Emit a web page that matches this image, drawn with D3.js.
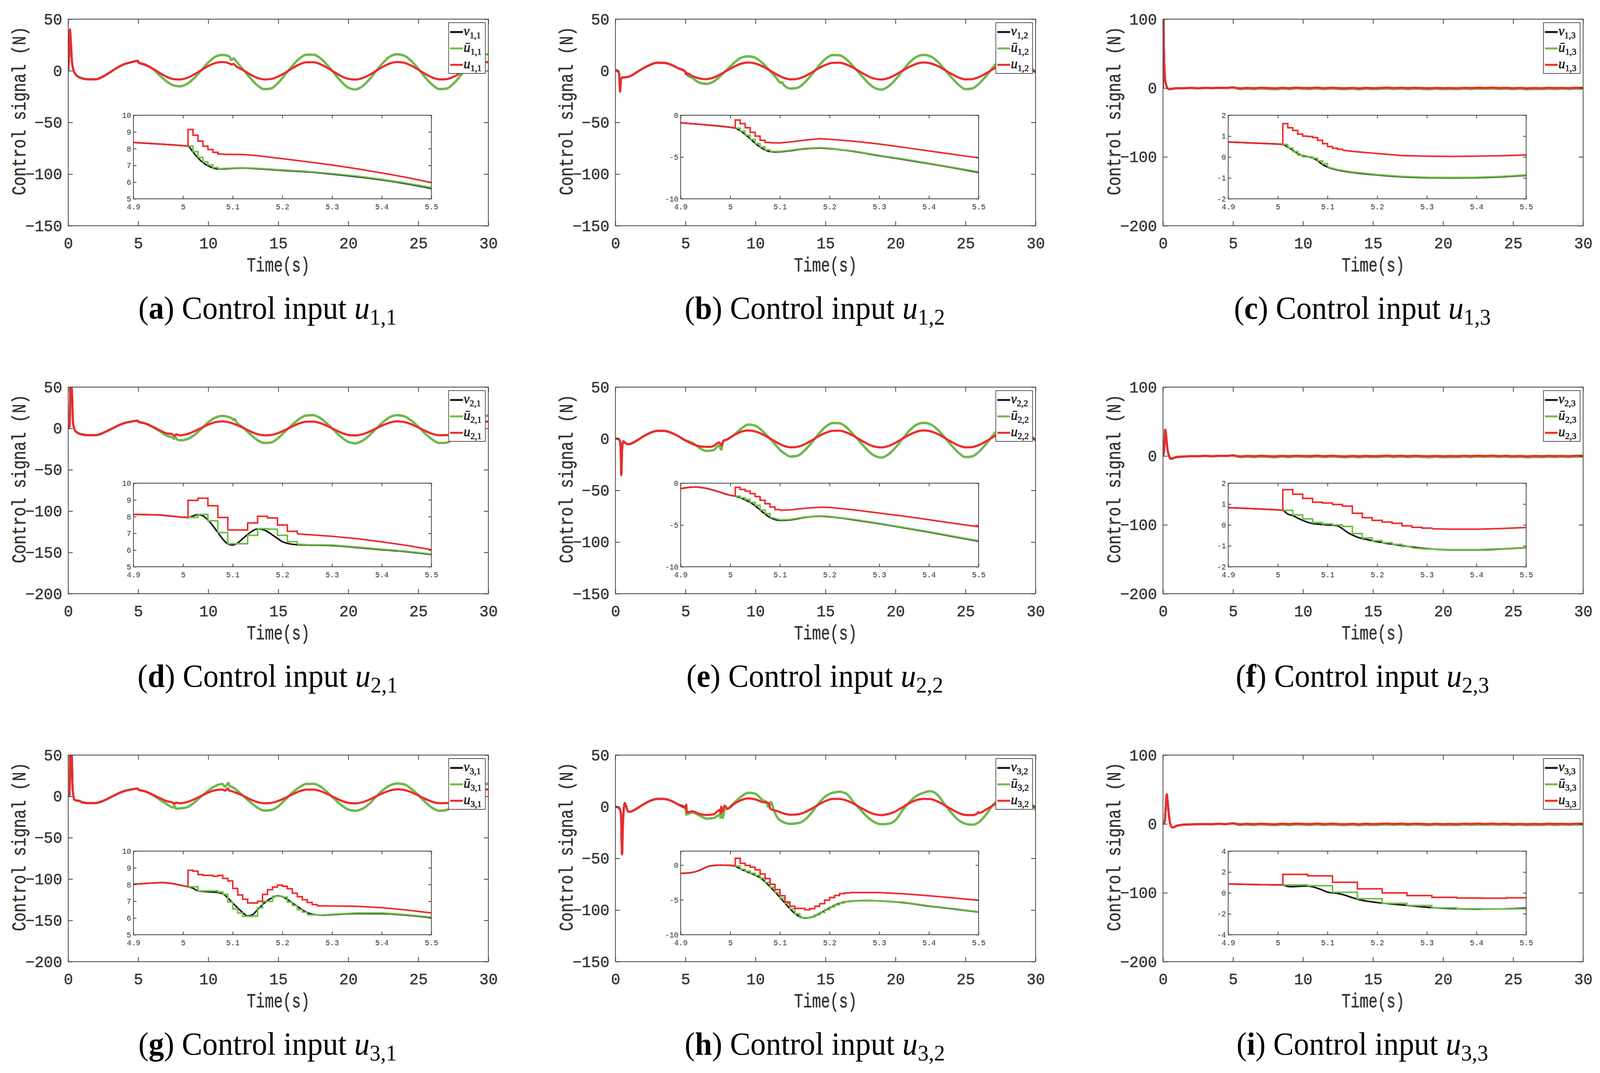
<!DOCTYPE html>
<html>
<head>
<meta charset="utf-8">
<script src="https://cdn.jsdelivr.net/npm/d3@7"></script>
<style>
  html, body { margin: 0; padding: 0; background: #fff; overflow: hidden; }
  svg { display: block; width: 100vw; height: 100vh; }
</style>
</head>
<body>
<svg id="fig" viewBox="0 0 4269 2747" preserveAspectRatio="none"></svg>
<script>
// sample times of the main plots
var tGrid = [1,1.5,2,2.5,3,3.5,4,4.5,5,5.5,6,6.5,7,7.5,8,8.5,9,9.5,10,10.5,11,11.5,12,12.5,13,13.5,14,14.5,15,15.5,
             16,16.5,17,17.5,18,18.5,19,19.5,20,20.5,21,21.5,22,22.5,23,23.5,24,24.5,25,25.5,26,26.5,27,27.5,28,28.5,29,29.5,30];
var tLate = [5,5.5,6,6.5,7,7.5,8,8.5,9,9.5,10,10.5,11,11.5,12,12.5,13,13.5,14,14.5,15,15.5,
             16,16.5,17,17.5,18,18.5,19,19.5,20,20.5,21,21.5,22,22.5,23,23.5,24,24.5,25,25.5,26,26.5,27,27.5,28,28.5,29,29.5,30];

var xTicks = [0,5,10,15,20,25,30];
var zxTicks = [4.9,5,5.1,5.2,5.3,5.4,5.5];
var yTicks150 = [-150,-100,-50,0,50];
var yTicks200 = [-200,-150,-100,-50,0,50];
var yTicks300 = [-200,-100,0,100];
var zTicks5 = [5,6,7,8,9,10];
var zTicks10 = [-10,-5,0];
var zTicks2 = [-2,-1,0,1,2];
var zTicks4 = [-4,-2,0,2,4];

// ---------- column 1 ----------
var uHead_a = [[0,0],[0.05,12],[0.12,40],[0.18,30],[0.25,12],[0.35,2],[0.5,-3],[0.75,-6]];
var u_a = [-7.3,-8.3,-8.1,-5.4,-1.3,3.0,6.4,8.3,8.2,6.0, 2.4,-1.8,-5.6,-8.0,-8.4,-6.8,-3.5,0.6,4.6,7.5,
           8.5,7.2,4.3,0.6,-3.6,-6.8,-8.4,-7.9,-5.5,-1.8, 2.4,6.1,8.2,8.3,6.4,2.9,-1.3,-5.2,-7.8,-8.5,
           -7.1,-4.0,0.1,4.1,7.2,8.5,7.7,5.0,1.1,-3.1, -6.5,-8.3,-8.1,-5.9,-2.3,1.9,5.6,8.0,8.4];
var uExtra_a = [[4.97,9.6],[11.65,6.2],[11.8,6.6]];
var ubar_a = [8.2,5.6,2.2,-4.0,-10.0,-14.0,-15.0,-12.5,-7.0,0.5, 8.0,13.5,15.4,14.0,9.0,1.0,-7.0,-14.0,-17.8,-17.0,
              -11.5,-3.5,4.7,11.7,15.6,15.7,12.2,5.5,-2.5,-10.5, -16.3,-18.0,-15.0,-8.5,0.0,8.0,14.0,16.0,14.6,9.5,
              2.0,-6.5,-13.5,-17.7,-17.3,-12.5,-5.0,3.5,11.0,15.5, 16.0];
var ubarExtra_a = [[11.65,10.5],[11.8,12.0]];

var uHead_d = [[0,0],[0.1,3],[0.17,60],[0.26,45],[0.35,6],[0.5,-3],[0.75,-6]];
var u_d = [-7.3,-8.3,-8.1,-5.4,-1.3,3.0,6.4,8.3,8.2,6.0, 2.4,-2.0,-5.8,-8.0,-8.4,-6.8,-3.5,0.6,4.6,7.5,
           8.5,7.3,4.4,0.6,-3.6,-6.8,-8.4,-7.9,-5.5,-1.8, 2.4,6.1,8.2,8.3,6.4,2.9,-1.3,-5.2,-7.8,-8.5,
           -7.1,-4.0,0.1,4.1,7.2,8.5,7.7,5.0,1.1,-3.1, -6.5,-8.3,-8.1,-5.9,-2.3,1.9,5.6,8.0,8.3];
var uExtra_d = [[4.95,9.4],[7.45,-7.0],[7.6,-8.9],[7.7,-7.2]];
var ubar_d = [8.2,6.0,2.0,-3.0,-8.5,-11.5,-14.5,-13.0,-8.0,-0.5, 7.5,13.0,15.2,13.5,8.0,1.0,-7.0,-14.0,-17.7,-17.0,
              -11.5,-3.5,4.5,11.5,15.6,16.0,12.5,5.5,-2.5,-10.5, -16.3,-18.0,-15.0,-8.5,0.0,8.0,14.0,16.0,14.6,9.5,
              2.0,-6.5,-13.5,-17.7,-17.3,-12.5,-5.0,3.5,11.0,15.0, 15.4];
var ubarExtra_d = [[7.55,-12.5],[7.65,-10.3],[7.75,-13.2],[11.7,12.0],[11.8,10.0],[11.9,11.5]];

var uHead_g = [[0,0],[0.1,2],[0.15,60],[0.24,55],[0.32,8],[0.45,-4],[0.6,-5],[0.8,-5.5]];
var u_g = [-7.2,-8.2,-8.0,-5.4,-1.3,3.0,6.4,8.3,8.2,6.0, 2.4,-1.8,-5.6,-7.8,-8.4,-6.8,-3.5,0.6,4.6,7.5,
           8.3,7.0,4.3,0.6,-3.6,-6.8,-8.4,-7.9,-5.5,-1.8, 2.4,6.1,8.2,8.3,6.4,2.9,-1.3,-5.2,-7.8,-8.5,
           -7.1,-4.0,0.1,4.1,7.2,8.5,7.7,5.0,1.1,-3.1, -6.5,-8.3,-8.1,-5.9,-2.3,1.9,5.6,8.0,8.4];
var uExtra_g = [[4.95,9.5],[7.55,-9.5],[7.7,-7.5],[11.2,7.0],[11.4,9.6],[11.6,6.6]];
var ubar_g = [8.2,6.0,2.0,-3.5,-9.0,-13.5,-14.5,-13.0,-7.5,0.0, 7.0,12.5,15.0,13.0,8.0,0.5,-7.0,-13.5,-17.2,-16.5,
              -12.0,-4.0,4.5,11.0,15.0,15.3,12.0,5.0,-3.0,-10.5, -16.0,-17.5,-15.0,-9.0,0.0,8.0,13.5,15.5,14.5,9.0,
              1.5,-7.0,-14.0,-17.5,-16.5,-12.0,-5.0,3.5,11.0,14.5, 15.0];
var ubarExtra_g = [[7.6,-12.0],[7.7,-14.8],[11.2,11.8],[11.45,16.3],[11.7,11.5]];

// ---------- column 2 ----------
var uHead_b = [[0,0],[0.1,0.5],[0.2,-1],[0.27,-3],[0.33,-20],[0.4,-8],[0.5,-6.5],[0.75,-6.2]];
var u_b = [-5.5,-1.6,2.5,5.9,7.8,7.7,5.7,2.4,-1.6,-5.1, -7.4,-8.1,-6.6,-3.4,0.5,4.2,7.0,8.0,7.0,4.3,
           0.6,-3.5,-6.7,-8.3,-7.8,-5.4,-1.8,2.3,5.7,7.7, 7.8,6.0,2.8,-1.2,-5.0,-7.6,-8.4,-7.0,-3.9,0.1,
           3.9,6.8,8.0,7.2,4.7,1.0,-3.1,-6.5,-8.3,-8.0, -5.8,-2.2,1.9,5.4,7.6,7.9,6.3,3.2,-1.2];
var uExtra_b = [[4.97,-0.6],[5.02,-3.2],[5.1,-2.3]];
var ubar_b = [-1.6,-7.0,-11.5,-12.7,-10.5,-5.0,1.5,8.0,12.8,14.0, 12.5,7.5,0.5,-7.0,-13.5,-17.2,-16.5,-11.5,-4.0,4.5,
              11.5,15.2,15.0,11.0,4.0,-3.5,-11.0,-16.5,-18.2,-15.0, -8.5,0.0,8.0,13.5,15.4,14.0,9.0,1.5,-6.5,-13.5,
              -17.8,-17.0,-12.0,-4.5,4.0,11.0,15.0,15.4,12.5,6.0, -2.0];
var ubarExtra_b = [[11.8,-11.6],[11.9,-11.0]];

var uHead_e = [[0,0],[0.15,0],[0.3,-1.5],[0.37,-8],[0.42,-35],[0.48,-10],[0.56,-2.4],[0.7,-4],[0.9,-5.4]];
var u_e = [-5.2,-2.0,2.3,5.8,7.7,7.6,5.7,2.4,-1.6,-5.0, -7.3,-7.8,-7.0,-5.0,-0.5,3.8,6.9,8.0,7.0,4.3,
           0.6,-3.5,-6.7,-8.3,-7.8,-5.4,-1.8,2.3,5.7,7.7, 7.8,6.0,2.8,-1.2,-5.0,-7.6,-8.4,-7.0,-3.9,0.1,
           3.9,6.8,8.0,7.2,4.7,1.0,-3.1,-6.5,-8.3,-8.0, -5.8,-2.2,1.9,5.4,7.6,7.9,6.3,3.2,-1.2];
var uExtra_e = [[6.8,-7.8],[7.4,-3.6],[7.57,-6.4],[7.7,-2.0]];
var ubar_e = [-1.6,-4.0,-8.8,-11.8,-11.0,-9.5,-0.5,4.0,10.0,13.8, 12.5,7.5,0.5,-7.0,-13.5,-17.2,-16.5,-11.5,-4.0,4.5,
              11.5,15.2,15.0,11.0,4.0,-3.5,-11.0,-16.5,-18.2,-15.0, -8.5,0.0,8.0,13.5,15.4,14.0,9.0,1.5,-6.5,-13.5,
              -17.8,-17.0,-12.0,-4.5,4.0,11.0,15.0,15.4,12.5,6.0, -2.0];
var ubarExtra_e = [[7.4,-6.3],[7.55,-10.5],[7.7,-3.0],[11.8,-11.5]];

var uHead_h = [[0,0],[0.15,-0.5],[0.3,-2],[0.4,-8],[0.47,-46],[0.53,-20],[0.6,-2],[0.67,3.5],[0.75,1],[0.9,-4.5]];
var u_h = [-5.0,-2.0,2.2,5.8,7.6,7.5,5.6,2.0,-1.0,-4.5, -7.0,-8.0,-7.5,-6.5,-2.0,3.0,6.5,8.0,7.0,4.5,
           1.0,-4.0,-6.5,-7.8,-7.5,-5.5,-2.0,2.0,5.5,7.5, 7.6,6.0,3.0,-1.0,-4.5,-7.2,-8.1,-7.0,-4.5,-0.5,
           3.5,6.5,7.6,7.4,5.0,1.5,-2.5,-6.0,-8.0,-8.1, -6.0,-2.5,1.5,5.0,7.3,7.8,6.5,3.5,-0.5];
var uExtra_h = [[5.05,2.0],[5.12,-5.5],[7.45,-3.0],[7.55,0.0],[7.65,-4.5],[7.8,1.0],[10.95,3.5],[11.1,-2.5],[25.8,-7.0],[25.9,-5.2]];
var ubar_h = [-1.0,-5.5,-8.5,-11.5,-11.0,-10.5,-2.0,4.0,10.0,13.5, 12.5,6.5,1.0,-9.0,-15.0,-16.5,-16.0,-13.0,-6.0,3.0,
              10.0,13.5,14.5,12.5,4.5,-3.0,-10.0,-15.0,-17.0,-16.5, -13.0,-3.5,4.5,10.5,13.5,15.0,11.5,2.5,-6.0,-13.0,
              -16.5,-17.5,-14.5,-7.0,2.5,8.0,13.0,14.0,12.0,5.0, -3.0];
var ubarExtra_h = [[5.05,-7.5],[7.45,-8.0],[7.55,-4.0],[7.65,-11.0],[7.8,-3.0],[10.8,4.6],[10.9,0.0],[11.1,4.5],[11.3,-2.5]];

// ---------- column 3 ----------
var uHead_c = [[0,0],[0.03,105],[0.06,60],[0.1,30],[0.15,12],[0.25,3],[0.4,-1.5],[0.6,-1.2],[0.8,-0.6]];
var u_c = [-0.3,-0.2,0.0,-0.2,0.1,-0.1,0.3,0.2,0.8,-0.5, 0.2,-0.3,0.5,0.0,-0.4,0.3,-0.2,0.6,0.1,0.0,
           0.6,-0.2,0.5,0.0,-0.3,0.2,-0.4,0.3,-0.2,0.1, 0.6,0.0,0.5,-0.1,0.4,0.0,-0.3,0.2,-0.2,0.1,
           -0.3,0.4,0.0,0.5,0.1,0.6,0.0,0.4,-0.3,0.2, -0.4,0.1,-0.3,0.3,0.0,0.2,-0.1,0.4,0.3];
var ubar_c = [0.8,-1.4,-0.8,-1.5,-0.6,-1.2,-1.8,-0.9,-1.4,-0.5, -1.0,-1.3,-0.6,-1.5,-0.7,-1.2,-1.8,-1.0,-1.9,-1.0,
              -1.6,-1.1,-0.6,-1.3,-0.7,-1.4,-0.8,-1.2,-1.8,-1.0, -1.7,-1.2,-1.6,-0.9,-1.3,-0.8,-1.1,-0.6,-1.2,-0.9,
              -1.6,-1.0,-1.9,-1.2,-1.7,-1.0,-1.4,-1.0,-1.3,-0.8, -0.9];

var uHead_f = [[0,0],[0.08,8],[0.15,38],[0.22,30],[0.32,10],[0.45,-1],[0.55,-4],[0.7,-3.6],[0.85,-2.2]];
var u_f = [-1.5,-0.8,-0.5,-0.3,0.0,-0.2,0.1,0.0,0.8,-0.6, 0.1,-0.4,0.3,-0.2,-0.5,0.2,-0.3,0.4,0.0,-0.1,
           0.5,-0.3,0.3,-0.2,-0.5,0.1,-0.4,0.2,-0.3,0.0, 0.5,-0.1,0.4,-0.2,0.3,-0.1,-0.4,0.1,-0.4,0.0,
           -0.3,0.3,-0.1,0.4,0.0,0.5,-0.1,0.3,-0.4,0.1, -0.5,0.0,-0.3,0.2,-0.1,0.1,-0.2,0.3,0.2];
var ubar_f = [0.8,-1.5,-1.0,-1.6,-0.8,-1.3,-1.9,-1.0,-1.5,-0.7, -1.1,-1.4,-0.7,-1.6,-0.9,-1.3,-1.9,-1.1,-2.0,-1.1,
              -1.7,-1.2,-0.7,-1.4,-0.8,-1.5,-0.9,-1.3,-1.9,-1.1, -1.8,-1.3,-1.7,-1.0,-1.4,-0.9,-1.2,-0.7,-1.3,-1.0,
              -1.7,-1.1,-2.0,-1.3,-1.8,-1.1,-1.5,-1.1,-1.4,-0.9, -1.0];

var uHead_i = [[0,0],[0.12,3],[0.2,25],[0.27,43],[0.35,28],[0.45,8],[0.55,-2],[0.65,-5],[0.8,-4.5]];
var u_i = [-2.5,-1.0,-0.6,-0.4,-0.2,-0.4,0.1,-0.2,0.8,-0.5, 0.2,-0.3,0.4,-0.1,-0.5,0.3,-0.2,0.5,0.1,-0.1,
           0.6,-0.2,0.4,-0.1,-0.4,0.2,-0.5,0.3,-0.2,0.1, 0.5,0.0,0.5,-0.2,0.4,0.0,-0.4,0.2,-0.3,0.1,
           -0.3,0.4,0.0,0.5,0.0,0.5,-0.1,0.4,-0.3,0.1, -0.4,0.1,-0.3,0.3,0.0,0.2,-0.1,0.3,0.2];
var ubar_i = [0.8,-1.4,-0.9,-1.6,-0.7,-1.2,-1.8,-1.0,-1.5,-0.6, -1.0,-1.4,-0.7,-1.5,-0.8,-1.3,-1.8,-1.0,-1.9,-1.1,
              -1.6,-1.1,-0.7,-1.3,-0.8,-1.4,-0.9,-1.2,-1.8,-1.0, -1.7,-1.2,-1.6,-1.0,-1.3,-0.8,-1.1,-0.7,-1.2,-0.9,
              -1.6,-1.0,-1.8,-1.2,-1.7,-1.0,-1.4,-1.0,-1.3,-0.9, -0.9];

// ---------- zoomed insets, t in [4.9, 5.5] ----------
var zNu_a = [[4.9,8.37],[4.95,8.28],[5.0,8.18],[5.01,8.15],[5.02,7.8],[5.03,7.45],[5.04,7.17],[5.05,6.98],[5.06,6.85],[5.07,6.79],[5.08,6.79],
             [5.1,6.82],[5.12,6.84],[5.15,6.8],[5.2,6.7],[5.25,6.61],[5.3,6.48],[5.35,6.32],[5.4,6.13],[5.45,5.9],[5.5,5.62]];
var zBarSteps_a = [[5.01,8.15],[5.02,7.82],[5.03,7.48],[5.04,7.2],[5.05,7.02],[5.06,6.87],[5.07,6.8]];
var zBarTail_a = [[5.1,6.84],[5.12,6.86],[5.15,6.82],[5.2,6.73],[5.25,6.64],[5.3,6.51],[5.35,6.36],[5.4,6.17],[5.45,5.94],[5.5,5.67]];
var zUSteps_a = [[5.01,9.15],[5.02,8.8],[5.03,8.45],[5.04,8.15],[5.05,7.95],[5.06,7.78],[5.07,7.68],[5.08,7.66]];
var zUTail_a = [[5.12,7.65],[5.15,7.58],[5.2,7.4],[5.25,7.22],[5.3,7.02],[5.35,6.8],[5.4,6.55],[5.45,6.28],[5.5,5.97]];

var zNu_b = [[4.9,-0.9],[4.95,-1.15],[5.0,-1.45],[5.01,-1.55],[5.02,-1.85],[5.03,-2.3],[5.04,-2.8],[5.05,-3.35],[5.06,-3.8],[5.07,-4.15],[5.08,-4.35],
             [5.09,-4.4],[5.1,-4.38],[5.12,-4.25],[5.15,-4.02],[5.18,-3.92],[5.2,-4.0],[5.25,-4.35],[5.3,-4.85],[5.35,-5.3],[5.4,-5.8],[5.45,-6.3],[5.5,-6.85]];
var zBarSteps_b = [[5.01,-1.55],[5.02,-1.9],[5.03,-2.4],[5.04,-2.9],[5.05,-3.4],[5.06,-3.8],[5.07,-4.15],[5.08,-4.33]];
var zBarTail_b = [[5.1,-4.33],[5.12,-4.2],[5.15,-3.97],[5.18,-3.87],[5.2,-3.95],[5.25,-4.3],[5.3,-4.8],[5.35,-5.25],[5.4,-5.75],[5.45,-6.25],[5.5,-6.78]];
var zUSteps_b = [[5.01,-0.57],[5.02,-1.0],[5.03,-1.5],[5.04,-2.05],[5.05,-2.5],[5.06,-3.0],[5.07,-3.25],[5.08,-3.3]];
var zUTail_b = [[5.1,-3.32],[5.12,-3.2],[5.15,-2.98],[5.18,-2.8],[5.2,-2.87],[5.25,-3.12],[5.3,-3.45],[5.35,-3.85],[5.4,-4.28],[5.45,-4.68],[5.5,-5.1]];

var zNu_c = [[4.9,0.72],[4.95,0.67],[5.0,0.62],[5.01,0.6],[5.02,0.47],[5.03,0.33],[5.04,0.17],[5.05,0.06],[5.06,0.02],[5.07,-0.04],[5.08,-0.18],
             [5.09,-0.36],[5.1,-0.48],[5.12,-0.62],[5.15,-0.74],[5.2,-0.86],[5.25,-0.95],[5.3,-0.99],[5.35,-1.0],[5.4,-0.99],[5.45,-0.95],[5.5,-0.88]];
var zBarSteps_c = [[5.01,0.6],[5.02,0.43],[5.03,0.26],[5.04,0.09],[5.05,0.01],[5.07,-0.06],[5.08,-0.18],[5.09,-0.33],[5.1,-0.47]];
var zBarTail_c = [[5.12,-0.6],[5.15,-0.72],[5.2,-0.84],[5.25,-0.93],[5.3,-0.97],[5.35,-0.98],[5.4,-0.97],[5.45,-0.93],[5.5,-0.86]];
var zUSteps_c = [[5.01,1.6],[5.02,1.4],[5.03,1.27],[5.04,1.1],[5.05,1.0],[5.06,0.98],[5.07,0.93],[5.08,0.8],[5.09,0.64],[5.1,0.5],[5.11,0.42],[5.12,0.37],[5.13,0.33]];
var zUTail_c = [[5.15,0.27],[5.2,0.17],[5.25,0.07],[5.3,0.04],[5.35,0.03],[5.4,0.04],[5.45,0.06],[5.5,0.1]];

var zNu_d = [[4.9,8.13],[4.95,8.1],[4.98,8.02],[5.0,7.96],[5.01,7.95],[5.02,8.04],[5.03,8.12],[5.04,8.05],[5.05,7.8],[5.06,7.45],[5.07,7.05],[5.08,6.65],
             [5.09,6.37],[5.1,6.3],[5.11,6.42],[5.12,6.68],[5.13,6.93],[5.14,7.15],[5.15,7.26],[5.16,7.23],[5.17,7.1],[5.18,6.9],[5.19,6.7],[5.2,6.5],
             [5.21,6.4],[5.23,6.32],[5.25,6.3],[5.3,6.27],[5.35,6.15],[5.4,6.02],[5.45,5.9],[5.5,5.73]];
var zBarSteps_d = [[5.01,7.95],[5.03,8.13],[5.05,7.75],[5.07,7.05],[5.09,6.38],[5.13,6.88],[5.15,7.28],[5.17,7.25],[5.19,6.88],[5.21,6.5],[5.23,6.35]];
var zBarTail_d = [[5.25,6.32],[5.3,6.3],[5.35,6.18],[5.4,6.05],[5.45,5.93],[5.5,5.76]];
var zUSteps_d = [[5.01,8.97],[5.03,9.1],[5.05,8.65],[5.07,7.95],[5.09,7.2],[5.13,7.62],[5.15,8.02],[5.17,7.92],[5.19,7.5],[5.21,7.12],[5.23,6.97]];
var zUTail_d = [[5.25,6.93],[5.3,6.82],[5.35,6.68],[5.4,6.49],[5.45,6.28],[5.5,6.02]];

var zNu_e = [[4.9,-0.65],[4.92,-0.48],[4.93,-0.45],[4.95,-0.6],[4.97,-0.9],[5.0,-1.45],[5.01,-1.55],[5.02,-1.75],[5.03,-2.0],[5.04,-2.3],[5.05,-2.7],
             [5.06,-3.2],[5.07,-3.7],[5.08,-4.1],[5.09,-4.35],[5.1,-4.45],[5.12,-4.4],[5.15,-4.1],[5.18,-3.95],[5.2,-4.02],[5.25,-4.4],[5.3,-4.85],
             [5.35,-5.35],[5.4,-5.85],[5.45,-6.4],[5.5,-6.95]];
var zBarSteps_e = [[5.01,-1.55],[5.02,-1.75],[5.03,-1.95],[5.04,-2.3],[5.05,-2.65],[5.06,-3.2],[5.07,-3.65],[5.08,-4.05]];
var zBarTail_e = [[5.1,-4.38],[5.12,-4.35],[5.15,-4.05],[5.18,-3.9],[5.2,-3.97],[5.25,-4.35],[5.3,-4.8],[5.35,-5.3],[5.4,-5.8],[5.45,-6.35],[5.5,-6.88]];
var zUSteps_e = [[5.01,-0.5],[5.02,-0.75],[5.03,-0.95],[5.04,-1.25],[5.05,-1.6],[5.06,-2.05],[5.07,-2.45],[5.08,-2.85],[5.09,-3.15],[5.1,-3.25]];
var zUTail_e = [[5.12,-3.2],[5.15,-3.0],[5.18,-2.87],[5.2,-2.9],[5.25,-3.2],[5.3,-3.57],[5.35,-3.95],[5.4,-4.37],[5.45,-4.8],[5.5,-5.22]];

var zNu_f = [[4.9,0.83],[4.95,0.78],[5.0,0.72],[5.01,0.7],[5.02,0.52],[5.03,0.45],[5.04,0.33],[5.05,0.22],[5.06,0.13],[5.07,0.07],[5.08,0.04],
             [5.1,0.0],[5.12,-0.04],[5.13,-0.18],[5.14,-0.35],[5.15,-0.48],[5.16,-0.58],[5.18,-0.7],[5.2,-0.8],[5.25,-0.99],[5.3,-1.13],
             [5.35,-1.19],[5.4,-1.19],[5.45,-1.15],[5.5,-1.09]];
var zBarSteps_f = [[5.01,0.7],[5.03,0.48],[5.05,0.29],[5.07,0.11],[5.09,0.05],[5.11,0.0],[5.13,-0.07],[5.15,-0.41],[5.17,-0.62],[5.19,-0.75],
                   [5.21,-0.85],[5.23,-0.93],[5.25,-1.03],[5.27,-1.1]];
var zBarTail_f = [[5.3,-1.15],[5.35,-1.18],[5.4,-1.18],[5.45,-1.14],[5.5,-1.08]];
var zUSteps_f = [[5.01,1.69],[5.03,1.47],[5.05,1.27],[5.07,1.09],[5.09,1.05],[5.11,0.98],[5.13,0.9],[5.15,0.56],[5.17,0.35],[5.19,0.22],
                 [5.21,0.14],[5.23,0.08],[5.25,-0.04],[5.27,-0.11],[5.29,-0.15],[5.31,-0.18]];
var zUTail_f = [[5.35,-0.2],[5.4,-0.2],[5.45,-0.17],[5.5,-0.12]];

var zNu_g = [[4.9,8.02],[4.93,8.08],[4.96,8.12],[4.98,8.05],[5.0,7.93],[5.01,7.87],[5.02,7.78],[5.03,7.62],[5.05,7.57],[5.07,7.52],[5.08,7.45],
             [5.09,7.2],[5.1,6.9],[5.11,6.6],[5.12,6.33],[5.13,6.12],[5.14,6.2],[5.15,6.5],[5.16,6.8],[5.17,7.05],[5.18,7.22],[5.19,7.33],
             [5.2,7.27],[5.21,7.12],[5.22,6.9],[5.23,6.7],[5.24,6.49],[5.25,6.33],[5.26,6.23],[5.28,6.17],[5.3,6.2],[5.35,6.27],[5.4,6.26],
             [5.45,6.17],[5.5,6.02]];
var zBarSteps_g = [[5.01,7.87],[5.03,7.62],[5.07,7.55],[5.08,7.42],[5.09,6.95],[5.1,6.55],[5.11,6.3],[5.12,6.1],[5.14,6.12],[5.15,6.62],
                   [5.16,7.0],[5.18,7.3],[5.2,7.25],[5.21,6.95],[5.22,6.75],[5.23,6.5],[5.24,6.35],[5.25,6.2]];
var zBarTail_g = [[5.28,6.18],[5.3,6.22],[5.35,6.3],[5.4,6.3],[5.45,6.2],[5.5,6.05]];
var zUSteps_g = [[5.01,8.85],[5.02,8.8],[5.03,8.6],[5.04,8.55],[5.06,8.5],[5.07,8.55],[5.08,8.37],[5.09,8.22],[5.1,7.77],[5.11,7.38],
                 [5.12,7.12],[5.13,6.9],[5.15,7.0],[5.16,7.41],[5.17,7.69],[5.18,7.85],[5.19,7.97],[5.2,7.9],[5.21,7.75],[5.22,7.48],
                 [5.23,7.27],[5.24,7.09],[5.25,6.93],[5.26,6.8],[5.27,6.73]];
var zUTail_g = [[5.3,6.72],[5.35,6.7],[5.4,6.62],[5.45,6.48],[5.5,6.3]];

var zNu_h = [[4.9,-1.2],[4.92,-1.1],[4.93,-0.95],[4.94,-0.7],[4.95,-0.35],[4.96,-0.12],[4.98,0.0],[5.0,-0.05],[5.01,-0.15],[5.02,-0.55],
             [5.03,-0.85],[5.04,-1.15],[5.05,-1.45],[5.06,-1.8],[5.07,-2.4],[5.08,-3.1],[5.09,-3.85],[5.1,-4.65],[5.11,-5.45],[5.12,-6.25],
             [5.13,-6.95],[5.14,-7.4],[5.15,-7.6],[5.16,-7.55],[5.17,-7.3],[5.18,-6.95],[5.19,-6.55],[5.2,-6.15],[5.21,-5.8],[5.22,-5.5],
             [5.23,-5.3],[5.25,-5.15],[5.28,-5.1],[5.3,-5.15],[5.35,-5.4],[5.4,-5.9],[5.45,-6.3],[5.5,-6.75]];
var zBarSteps_h = [[5.01,-0.15],[5.02,-0.6],[5.03,-0.88],[5.04,-1.18],[5.05,-1.48],[5.06,-1.88],[5.07,-2.5],[5.08,-3.2],[5.09,-3.95],[5.1,-4.75],
                   [5.11,-5.5],[5.12,-6.3],[5.13,-7.0],[5.14,-7.55],[5.16,-7.45],[5.17,-7.15],[5.18,-6.8],[5.19,-6.4],[5.2,-6.0],[5.21,-5.7],
                   [5.22,-5.45],[5.23,-5.25],[5.24,-5.15]];
var zBarTail_h = [[5.3,-5.12],[5.35,-5.35],[5.4,-5.85],[5.45,-6.25],[5.5,-6.7]];
var zUSteps_h = [[5.01,0.98],[5.02,0.25],[5.03,-0.05],[5.04,-0.3],[5.05,-0.68],[5.06,-1.26],[5.07,-1.94],[5.08,-2.77],[5.09,-3.53],[5.1,-4.4],
                 [5.11,-5.29],[5.12,-5.92],[5.13,-6.22],[5.15,-6.42],[5.16,-6.25],[5.17,-5.92],[5.18,-5.54],[5.19,-5.04],[5.2,-4.66],[5.21,-4.36],
                 [5.22,-4.1],[5.23,-4.0],[5.24,-3.95]];
var zUTail_h = [[5.3,-3.95],[5.35,-4.12],[5.4,-4.4],[5.45,-4.72],[5.5,-5.06]];

var zNu_i = [[4.9,0.86],[4.95,0.8],[5.0,0.77],[5.01,0.77],[5.02,0.62],[5.03,0.6],[5.05,0.65],[5.06,0.65],[5.08,0.45],[5.1,0.08],[5.12,-0.05],
             [5.13,-0.15],[5.15,-0.45],[5.16,-0.6],[5.2,-0.92],[5.25,-1.15],[5.3,-1.37],[5.35,-1.5],[5.4,-1.55],[5.45,-1.53],[5.5,-1.45]];
var zBarSteps_i = [[5.01,0.77],[5.06,0.69],[5.11,0.07],[5.16,-0.55],[5.21,-1.0],[5.26,-1.21],[5.31,-1.43],[5.36,-1.51],[5.41,-1.53],[5.46,-1.52],[5.5,-1.52]];
var zBarTail_i = [];
var zUSteps_i = [[5.01,1.78],[5.06,1.64],[5.11,1.02],[5.16,0.39],[5.21,0.0],[5.26,-0.25],[5.31,-0.42],[5.36,-0.49],[5.41,-0.5],[5.46,-0.47],[5.5,-0.46]];
var zUTail_i = [];

// table the drawing loop walks through
var panels = [
  {id:'a', row:0, col:0, sub:'1,1', yDom:[-150,50],  yTicks:yTicks150, head:uHead_a, u:u_a, uEx:uExtra_a, ubar:ubar_a, ubarEx:ubarExtra_a,
   zDom:[5,10], zTicks:zTicks5, zNu:zNu_a, zBs:zBarSteps_a, zBt:zBarTail_a, zUs:zUSteps_a, zUt:zUTail_a},
  {id:'b', row:0, col:1, sub:'1,2', yDom:[-150,50],  yTicks:yTicks150, head:uHead_b, u:u_b, uEx:uExtra_b, ubar:ubar_b, ubarEx:ubarExtra_b,
   zDom:[-10,0], zTicks:zTicks10, zNu:zNu_b, zBs:zBarSteps_b, zBt:zBarTail_b, zUs:zUSteps_b, zUt:zUTail_b},
  {id:'c', row:0, col:2, sub:'1,3', yDom:[-200,100], yTicks:yTicks300, head:uHead_c, u:u_c, uEx:[], ubar:ubar_c, ubarEx:[],
   zDom:[-2,2], zTicks:zTicks2, zNu:zNu_c, zBs:zBarSteps_c, zBt:zBarTail_c, zUs:zUSteps_c, zUt:zUTail_c},
  {id:'d', row:1, col:0, sub:'2,1', yDom:[-200,50],  yTicks:yTicks200, head:uHead_d, u:u_d, uEx:uExtra_d, ubar:ubar_d, ubarEx:ubarExtra_d,
   zDom:[5,10], zTicks:zTicks5, zNu:zNu_d, zBs:zBarSteps_d, zBt:zBarTail_d, zUs:zUSteps_d, zUt:zUTail_d},
  {id:'e', row:1, col:1, sub:'2,2', yDom:[-150,50],  yTicks:yTicks150, head:uHead_e, u:u_e, uEx:uExtra_e, ubar:ubar_e, ubarEx:ubarExtra_e,
   zDom:[-10,0], zTicks:zTicks10, zNu:zNu_e, zBs:zBarSteps_e, zBt:zBarTail_e, zUs:zUSteps_e, zUt:zUTail_e},
  {id:'f', row:1, col:2, sub:'2,3', yDom:[-200,100], yTicks:yTicks300, head:uHead_f, u:u_f, uEx:[], ubar:ubar_f, ubarEx:[],
   zDom:[-2,2], zTicks:zTicks2, zNu:zNu_f, zBs:zBarSteps_f, zBt:zBarTail_f, zUs:zUSteps_f, zUt:zUTail_f},
  {id:'g', row:2, col:0, sub:'3,1', yDom:[-200,50],  yTicks:yTicks200, head:uHead_g, u:u_g, uEx:uExtra_g, ubar:ubar_g, ubarEx:ubarExtra_g,
   zDom:[5,10], zTicks:zTicks5, zNu:zNu_g, zBs:zBarSteps_g, zBt:zBarTail_g, zUs:zUSteps_g, zUt:zUTail_g},
  {id:'h', row:2, col:1, sub:'3,2', yDom:[-150,50],  yTicks:yTicks150, head:uHead_h, u:u_h, uEx:uExtra_h, ubar:ubar_h, ubarEx:ubarExtra_h,
   zDom:[-10,2], zTicks:zTicks10, zNu:zNu_h, zBs:zBarSteps_h, zBt:zBarTail_h, zUs:zUSteps_h, zUt:zUTail_h},
  {id:'i', row:2, col:2, sub:'3,3', yDom:[-200,100], yTicks:yTicks300, head:uHead_i, u:u_i, uEx:[], ubar:ubar_i, ubarEx:[],
   zDom:[-4,4], zTicks:zTicks4, zNu:zNu_i, zBs:zBarSteps_i, zBt:zBarTail_i, zUs:zUSteps_i, zUt:zUTail_i}
];

var svg = d3.select('#fig');
var colX = [182, 1642, 3103], rowY = [49, 991, 1933];
var W = 1121, H = 529;
var RED = '#ee2b2b', GREEN = '#6cbd45', BLACK = '#151515', AX = '#404040';
var MONO = "'Liberation Mono', 'DejaVu Sans Mono', monospace";
var SERIF = "'Liberation Serif', 'DejaVu Serif', serif";

function pairs(ts, vs) {
  return vs.map(function(v, i) { return [ts[i], v]; }).filter(function(d) { return d[0] !== undefined; });
}
function byT(a, b) { return a[0] - b[0]; }

function styleAxis(sel, size, heavy) {
  sel.attr('color', AX).attr('font-family', MONO).attr('font-size', size);
  sel.select('.domain').remove();
  sel.selectAll('.tick line').attr('stroke-width', 2);
  sel.selectAll('.tick text').attr('fill', '#333');
  if (heavy) sel.selectAll('.tick text').attr('stroke', '#333').attr('stroke-width', heavy);
}

panels.forEach(function(p) {
  var g = svg.append('g').attr('transform', 'translate(' + colX[p.col] + ',' + rowY[p.row] + ')');
  var x = d3.scaleLinear().domain([0, 30]).range([0, W]);
  var y = d3.scaleLinear().domain(p.yDom).range([H, 0]);

  g.append('clipPath').attr('id', 'clip' + p.id).append('rect').attr('width', W).attr('height', H);

  var uPts = p.head.concat(pairs(tGrid, p.u)).concat(p.uEx).sort(byT);
  var barPts = pairs(tLate, p.ubar).concat(p.ubarEx).sort(byT);
  var nuPts = uPts.filter(function(d) { return d[0] < 5; }).concat(barPts);

  var line = d3.line().x(function(d) { return x(d[0]); }).y(function(d) { return y(d[1]); }).curve(d3.curveMonotoneX);
  var lines = g.append('g').attr('clip-path', 'url(#clip' + p.id + ')');
  [[nuPts, BLACK], [barPts, GREEN], [uPts, RED]].forEach(function(s) {
    lines.append('path').datum(s[0]).attr('d', line).attr('fill', 'none')
      .attr('stroke', s[1]).attr('stroke-width', 5.5).attr('stroke-linejoin', 'round');
  });

  // axes, MATLAB style: ticks inside on all four sides
  g.append('g').attr('transform', 'translate(0,' + H + ')')
    .call(d3.axisBottom(x).tickValues(xTicks).tickSizeInner(-12).tickSizeOuter(0).tickPadding(29).tickFormat(d3.format('d')))
    .call(styleAxis, 41, 0.6);
  g.append('g')
    .call(d3.axisLeft(y).tickValues(p.yTicks).tickSizeInner(-12).tickSizeOuter(0).tickPadding(16).tickFormat(d3.format('d')))
    .call(styleAxis, 41, 0.6);
  g.append('g').call(d3.axisTop(x).tickValues(xTicks).tickSizeInner(-12).tickSizeOuter(0).tickFormat(''))
    .call(styleAxis, 41);
  g.append('g').attr('transform', 'translate(' + W + ',0)')
    .call(d3.axisRight(y).tickValues(p.yTicks).tickSizeInner(-12).tickSizeOuter(0).tickFormat(''))
    .call(styleAxis, 41);
  g.append('rect').attr('width', W).attr('height', H).attr('fill', 'none').attr('stroke', AX).attr('stroke-width', 2);

  g.append('text').attr('transform', 'translate(-114,235) rotate(-90) scale(1,1.3)')
    .attr('text-anchor', 'middle').attr('font-family', MONO).attr('font-size', 40).attr('fill', '#333')
    .attr('stroke', '#333').attr('stroke-width', 0.5)
    .text('Control signal (N)');
  g.append('text').attr('transform', 'translate(' + (W / 2) + ',' + (H + 117) + ') scale(1,1.3)')
    .attr('text-anchor', 'middle').attr('font-family', MONO).attr('font-size', 40).attr('fill', '#333')
    .attr('stroke', '#333').attr('stroke-width', 0.5)
    .text('Time(s)');

  // inset
  var iw = 795, ih = 214;
  var ig = g.append('g').attr('transform', 'translate(174,246)');
  ig.append('rect').attr('width', iw).attr('height', ih).attr('fill', '#fff');
  ig.append('clipPath').attr('id', 'zclip' + p.id).append('rect').attr('width', iw).attr('height', ih);
  var zx = d3.scaleLinear().domain([4.9, 5.5]).range([0, iw]);
  var zy = d3.scaleLinear().domain(p.zDom).range([ih, 0]);
  var zSmooth = d3.line().x(function(d) { return zx(d[0]); }).y(function(d) { return zy(d[1]); }).curve(d3.curveMonotoneX);
  var zStep = d3.line().x(function(d) { return zx(d[0]); }).y(function(d) { return zy(d[1]); }).curve(d3.curveStepAfter);
  var zLin = d3.line().x(function(d) { return zx(d[0]); }).y(function(d) { return zy(d[1]); });
  var zl = ig.append('g').attr('clip-path', 'url(#zclip' + p.id + ')');
  var pre = p.zNu.filter(function(d) { return d[0] <= 5.01; });
  var start = pre[pre.length - 1];

  function drawHeld(steps, tail, col) {
    zl.append('path').datum([start].concat(steps)).attr('d', zStep).attr('fill', 'none').attr('stroke', col).attr('stroke-width', 4);
    if (tail.length) {
      zl.append('path').datum([steps[steps.length - 1]].concat(tail)).attr('d', zLin)
        .attr('fill', 'none').attr('stroke', col).attr('stroke-width', 4).attr('stroke-linejoin', 'round');
    }
  }
  zl.append('path').datum(p.zNu).attr('d', zSmooth).attr('fill', 'none').attr('stroke', BLACK).attr('stroke-width', 4);
  drawHeld(p.zBs, p.zBt, GREEN);
  zl.append('path').datum(pre).attr('d', zLin).attr('fill', 'none').attr('stroke', RED).attr('stroke-width', 4);
  drawHeld(p.zUs, p.zUt, RED);

  var zfmt = function(d) { return String(+d.toFixed(1)); };
  ig.append('g').attr('transform', 'translate(0,' + ih + ')')
    .call(d3.axisBottom(zx).tickValues(zxTicks).tickSizeInner(-8).tickSizeOuter(0).tickPadding(13).tickFormat(zfmt))
    .call(styleAxis, 20);
  ig.append('g')
    .call(d3.axisLeft(zy).tickValues(p.zTicks).tickSizeInner(-8).tickSizeOuter(0).tickPadding(6).tickFormat(zfmt))
    .call(styleAxis, 20);
  ig.append('g').call(d3.axisTop(zx).tickValues(zxTicks).tickSizeInner(-8).tickSizeOuter(0).tickFormat(''))
    .call(styleAxis, 20);
  ig.append('g').attr('transform', 'translate(' + iw + ',0)')
    .call(d3.axisRight(zy).tickValues(p.zTicks).tickSizeInner(-8).tickSizeOuter(0).tickFormat(''))
    .call(styleAxis, 20);
  ig.append('rect').attr('width', iw).attr('height', ih).attr('fill', 'none').attr('stroke', AX).attr('stroke-width', 2);

  // legend
  var lw = 98, lh = 130;
  var lg = g.append('g').attr('transform', 'translate(' + (W - 8 - lw) + ',9)');
  lg.append('rect').attr('width', lw).attr('height', lh).attr('fill', '#fff').attr('stroke', '#555').attr('stroke-width', 2);
  [['\u03bd', BLACK], ['\u016b', GREEN], ['u', RED]].forEach(function(e, k) {
    var yy = 24 + k * 42;
    lg.append('line').attr('x1', 4).attr('x2', 38).attr('y1', yy).attr('y2', yy).attr('stroke', e[1]).attr('stroke-width', 5);
    var t = lg.append('text').attr('x', 40).attr('y', yy + 9).attr('font-family', SERIF).attr('fill', '#111')
      .attr('stroke', '#111').attr('stroke-width', 0.7);
    t.append('tspan').attr('font-style', 'italic').attr('font-size', 36).text(e[0]);
    t.append('tspan').attr('font-size', 24).attr('dy', 7).text(p.sub);
  });

  // caption
  var cap = g.append('text').attr('x', 532).attr('y', 767).attr('text-anchor', 'middle')
    .attr('font-family', SERIF).attr('font-size', 82).attr('fill', '#000');
  cap.append('tspan').text('(');
  cap.append('tspan').attr('font-weight', 'bold').text(p.id);
  cap.append('tspan').text(') Control input ');
  cap.append('tspan').attr('font-style', 'italic').text('u');
  cap.append('tspan').attr('font-size', 58).attr('dy', 15).text(p.sub);
});
</script>
</body>
</html>
